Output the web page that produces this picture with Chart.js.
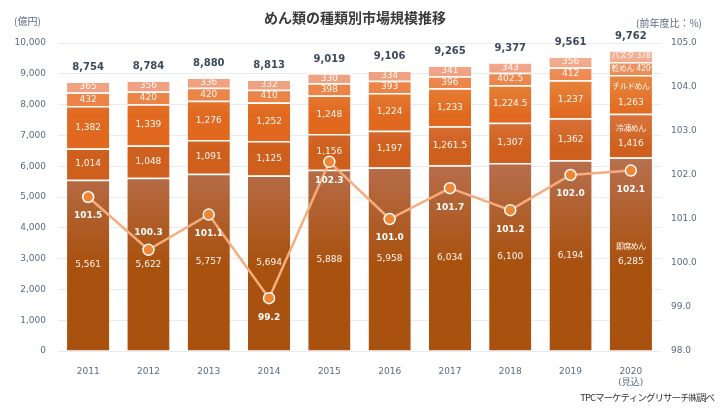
<!DOCTYPE html>
<html>
<head>
<meta charset="utf-8">
<script src="https://cdn.jsdelivr.net/npm/chart.js@4"></script>
<style>
  html, body { margin: 0; padding: 0; background: #fff; }
  #wrap { width: 728px; height: 419px; }
</style>
</head>
<body>
<div id="wrap"><canvas id="menChart" width="728" height="419"></canvas></div>
<script>
// データ（億円）
const years = ['2011', '2012', '2013', '2014', '2015', '2016', '2017', '2018', '2019', '2020'];
const seriesNames = ['即席めん', '冷凍めん', 'チルドめん', '乾めん', 'パスタ'];
const sokuseki = [5561, 5622, 5757, 5694, 5888, 5958, 6034, 6100, 6194, 6285];
const reitou = [1014, 1048, 1091, 1125, 1156, 1197, 1261.5, 1307, 1362, 1416];
const chilled = [1382, 1339, 1276, 1252, 1248, 1224, 1233, 1224.5, 1237, 1263];
const kanmen = [432, 420, 420, 410, 398, 393, 396, 402.5, 412, 420];
const pasta = [365, 356, 336, 332, 330, 334, 341, 343, 356, 378];
const totals = [8754, 8784, 8880, 8813, 9019, 9106, 9265, 9377, 9561, 9762];
const growth = [101.5, 100.3, 101.1, 99.2, 102.3, 101.0, 101.7, 101.2, 102.0, 102.1];
const leftTicks = [0, 10000, 1000];   // min, max, step
const rightTicks = [98, 105, 1];

const stackData = [sokuseki, reitou, chilled, kanmen, pasta];
const barColors = [
    ['#b8704f', '#a9510f'],
    ['#d9743d', '#cf5f1c'],
    ['#e8873f', '#e0691f'],
    ['#ef9461', '#ec8347'],
    ['#f4b49a', '#f0a182']
];

const FONT = '"DejaVu Sans", "Noto Sans CJK JP", sans-serif';
const JP = '"Noto Sans CJK JP", sans-serif';

const fmt = v => v.toLocaleString('en-US', { maximumFractionDigits: 1 });

// グラデーション（系列ごとに縦方向）
const gradCache = {};
function barFill(ctx) {
    const i = ctx.datasetIndex;
    const chart = ctx.chart;
    if (!chart.chartArea) return barColors[i][1];
    const key = i + '_' + chart.chartArea.bottom;
    if (gradCache[key]) return gradCache[key];
    let lo = Infinity, hi = 0;
    years.forEach((_, k) => {
        let below = 0;
        for (let s = 0; s < i; s++) below += stackData[s][k];
        lo = Math.min(lo, below);
        hi = Math.max(hi, below + stackData[i][k]);
    });
    const y = chart.scales.y;
    const g = chart.ctx.createLinearGradient(0, y.getPixelForValue(hi), 0, y.getPixelForValue(lo));
    g.addColorStop(0, barColors[i][0]);
    g.addColorStop(0.55, barColors[i][1]);
    g.addColorStop(1, barColors[i][1]);
    gradCache[key] = g;
    return g;
}

const labelPlugin = {
    id: 'labels',
    afterDatasetsDraw(chart) {
        const c = chart.ctx;
        const last = years.length - 1;
        c.save();
        c.textAlign = 'center';
        c.textBaseline = 'middle';
        // 積み上げ内の数値
        stackData.forEach((arr, i) => {
            const meta = chart.getDatasetMeta(i);
            meta.data.forEach((el, k) => {
                const cy = (el.y + el.base) / 2;
                c.fillStyle = '#fff8f2';
                c.letterSpacing = '0px';
                if (k === last) {
                    if (i >= 3) {
                        c.font = '8px ' + FONT;
                        c.letterSpacing = '-0.4px';
                        c.fillText(seriesNames[i] + ' ' + fmt(arr[k]), el.x, cy);
                    } else {
                        c.font = '8px ' + JP;
                        c.letterSpacing = '-0.6px';
                        c.fillText(seriesNames[i], el.x, cy - 8);
                        c.letterSpacing = '0px';
                        c.font = '9px ' + FONT;
                        c.fillText(fmt(arr[k]), el.x, cy + 8);
                    }
                } else {
                    c.font = '9px ' + FONT;
                    c.fillText(fmt(arr[k]), el.x, cy);
                }
            });
        });
        c.letterSpacing = '0px';
        // 合計
        const topMeta = chart.getDatasetMeta(stackData.length - 1);
        c.font = 'bold 10px ' + FONT;
        c.fillStyle = '#3d4a5a';
        topMeta.data.forEach((el, k) => {
            c.fillText(fmt(totals[k]), el.x, el.y - 14);
        });
        // 前年度比
        const lineMeta = chart.getDatasetMeta(stackData.length);
        c.font = 'bold 9px ' + FONT;
        c.fillStyle = '#ffffff';
        lineMeta.data.forEach((el, k) => {
            const dy = k === 1 ? -17 : 19;
            c.fillText(growth[k].toFixed(1), el.x, el.y + dy);
        });
        // 見出し・注記
        c.fillStyle = '#3a3a3a';
        c.font = 'bold 14px ' + JP;
        c.fillText('めん類の種類別市場規模推移', 355, 18);
        c.fillStyle = '#5b6b82';
        c.font = '10px ' + JP;
        c.textAlign = 'left';
        c.fillText('(億円)', 14, 21);
        c.textAlign = 'right';
        c.fillText('(前年度比：%)', 702, 23);
        c.fillStyle = '#333';
        c.font = '9.5px ' + JP;
        c.letterSpacing = '-1px';
        c.fillText('TPCマーケティングリサーチ㈱調べ', 714, 397);
        c.restore();
    }
};

const datasets = stackData.map((arr, i) => ({
    type: 'bar',
    label: seriesNames[i],
    data: arr,
    backgroundColor: barFill,
    borderColor: '#ffffff',
    borderWidth: { top: 1.5, left: 0, right: 0, bottom: 0 },
    borderSkipped: false,
    barPercentage: 0.7,
    categoryPercentage: 1,
    yAxisID: 'y',
    order: 2
}));
datasets.push({
    type: 'line',
    label: '前年度比',
    data: growth,
    yAxisID: 'y1',
    borderColor: '#f6ad7e',
    borderWidth: 2.5,
    pointRadius: 5.5,
    pointBackgroundColor: '#ef8535',
    pointBorderColor: '#ffffff',
    pointBorderWidth: 1.5,
    tension: 0,
    order: 1
});

const ctx = document.getElementById('menChart').getContext('2d');
new Chart(ctx, {
    data: {
        labels: years.map(y => y === '2020' ? ['2020', '(見込)'] : y),
        datasets: datasets
    },
    options: {
        responsive: false,
        animation: false,
        layout: { padding: { top: 43, left: 0, right: 0, bottom: 0 } },
        plugins: {
            legend: { display: false },
            tooltip: { enabled: false },
            title: { display: false }
        },
        scales: {
            x: {
                stacked: true,
                grid: { display: false },
                border: { display: false },
                ticks: { color: '#5b6b82', font: { family: FONT, size: 9 }, padding: 7, maxRotation: 0 },
                afterFit: s => { s.height = 68; }
            },
            y: {
                stacked: true,
                min: leftTicks[0],
                max: leftTicks[1],
                ticks: {
                    stepSize: leftTicks[2],
                    color: '#5b6b82',
                    font: { family: FONT, size: 9 },
                    padding: 12,
                    callback: v => v.toLocaleString('en-US')
                },
                grid: { color: '#e8ecf0', drawTicks: false },
                border: { display: false },
                afterFit: s => { s.width = 58; }
            },
            y1: {
                position: 'right',
                min: rightTicks[0],
                max: rightTicks[1],
                ticks: {
                    stepSize: rightTicks[2],
                    color: '#5b6b82',
                    font: { family: FONT, size: 9 },
                    padding: 10,
                    callback: v => v.toFixed(1)
                },
                grid: { drawOnChartArea: false, drawTicks: false },
                border: { display: false },
                afterFit: s => { s.width = 67; }
            }
        }
    },
    plugins: [labelPlugin]
});
</script>
</body>
</html>
